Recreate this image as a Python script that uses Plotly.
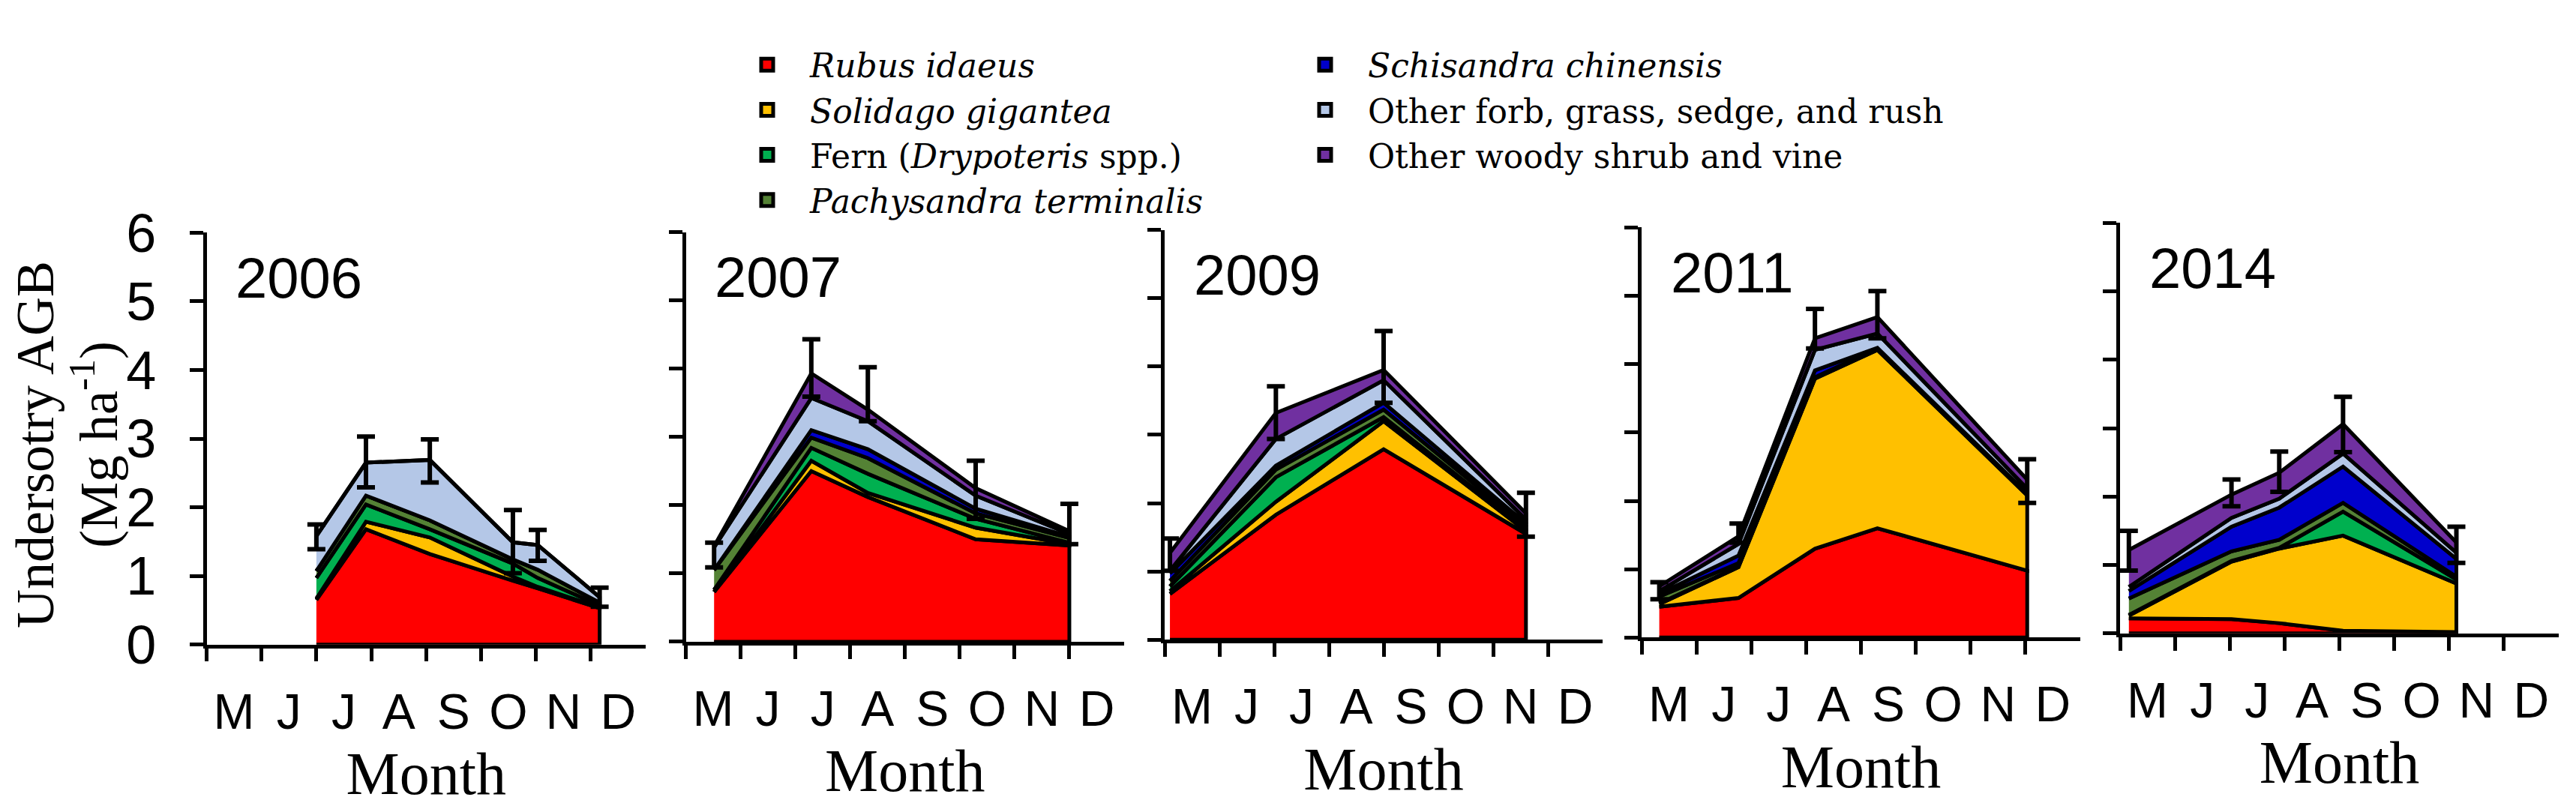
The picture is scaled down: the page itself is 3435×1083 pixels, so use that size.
import numpy as np
import pandas as pd
import plotly.graph_objects as go

# sampling campaigns, one panel per year
years = ["2006", "2007", "2009", "2011", "2014"]
sample_dates = [
    ["2006-07-01", "2006-07-29", "2006-09-03", "2006-10-19", "2006-11-02", "2006-12-06"],
    ["2007-05-17", "2007-07-10", "2007-08-11", "2007-10-10", "2007-12-01"],
    ["2009-05-04", "2009-07-02", "2009-09-01", "2009-11-19"],
    ["2011-05-11", "2011-06-24", "2011-08-06", "2011-09-10", "2011-12-02"],
    ["2014-05-06", "2014-07-02", "2014-07-29", "2014-09-03", "2014-11-05"],
]

# biomass per species group (Mg/ha), one list per year
rubus = [
    [0.65, 1.68, 1.32, 0.93, 0.82, 0.53],
    [0.73, 2.50, 2.12, 1.50, 1.41],
    [0.67, 1.83, 2.79, 1.55],
    [0.45, 0.58, 1.30, 1.60, 0.98],
    [0.22, 0.21, 0.15, 0.04, 0.02],
]
solidago = [
    [0.02, 0.11, 0.24, 0.06, 0.02, 0.01],
    [0.00, 0.15, 0.06, 0.17, 0.02],
    [0.04, 0.19, 0.41, 0.04],
    [0.04, 0.45, 2.49, 2.61, 1.10],
    [0.04, 0.84, 1.09, 1.39, 0.71],
]
fern = [
    [0.30, 0.25, 0.12, 0.19, 0.13, 0.03],
    [0.03, 0.19, 0.28, 0.13, 0.02],
    [0.07, 0.36, 0.06, 0.02],
    [0.01, 0.01, 0.01, 0.01, 0.01],
    [0.01, 0.01, 0.01, 0.35, 0.06],
]
pachysandra = [
    [0.10, 0.13, 0.13, 0.06, 0.12, 0.04],
    [0.29, 0.15, 0.23, 0.08, 0.07],
    [0.08, 0.11, 0.11, 0.05],
    [0.10, 0.05, 0.01, 0.01, 0.01],
    [0.24, 0.14, 0.12, 0.13, 0.04],
]
schisandra = [
    [0.00, 0.00, 0.00, 0.00, 0.00, 0.00],
    [0.00, 0.11, 0.13, 0.07, 0.02],
    [0.11, 0.06, 0.10, 0.04],
    [0.04, 0.11, 0.10, 0.01, 0.01],
    [0.11, 0.36, 0.47, 0.53, 0.26],
]
other_forb = [
    [0.51, 0.48, 0.88, 0.25, 0.36, 0.08],
    [0.33, 0.47, 0.41, 0.19, 0.04],
    [0.04, 0.39, 0.33, 0.06],
    [0.04, 0.17, 0.30, 0.21, 0.07],
    [0.06, 0.13, 0.13, 0.19, 0.09],
]
other_woody = [
    [0.00, 0.00, 0.00, 0.00, 0.00, 0.00],
    [0.02, 0.36, 0.17, 0.11, 0.04],
    [0.26, 0.38, 0.15, 0.09],
    [0.07, 0.11, 0.17, 0.24, 0.13],
    [0.54, 0.34, 0.38, 0.43, 0.15],
]

# error bars on the total (upper / lower arm)
err_up = [
    [0.17, 0.38, 0.30, 0.47, 0.22, 0.14],
    [0.05, 0.50, 0.62, 0.40, 0.40],
    [0.21, 0.39, 0.57, 0.30],
    [0.06, 0.19, 0.43, 0.38, 0.30],
    [0.28, 0.22, 0.31, 0.40, 0.23],
]
err_down = [
    [0.19, 0.36, 0.33, 0.45, 0.23, 0.14],
    [0.31, 0.34, 0.17, 0.45, 0.19],
    [0.26, 0.38, 0.48, 0.34],
    [0.19, 0.09, 0.15, 0.31, 0.34],
    [0.30, 0.17, 0.28, 0.41, 0.30],
]

species_names = [
    "<i>Rubus idaeus</i>",
    "<i>Solidago gigantea</i>",
    "Fern (<i>Drypoteris</i> spp.)",
    "<i>Pachysandra terminalis</i>",
    "<i>Schisandra chinensis</i>",
    "Other forb, grass, sedge, and rush",
    "Other woody shrub and vine",
]
species_values = [rubus, solidago, fern, pachysandra, schisandra, other_forb, other_woody]
species_colors = ["#FF0000", "#FFC000", "#00B050", "#548235", "#0000CC", "#B4C7E7", "#7030A0"]

month_letters = ["M", "J", "J", "A", "S", "O", "N", "D"]
month_starts = [5, 6, 7, 8, 9, 10, 11, 12]

W, H = 3435, 1083
# panel placement in pixels (left, right, y at 0, y at 6)
panel_left = [275.5, 914.5, 1553, 2189, 2827]
panel_right = [861, 1499, 2137, 2774, 3412]
panel_y0 = [885, 881, 878, 875, 869]
panel_y6 = [292, 291, 288, 284.5, 278]

SANS = "Liberation Sans, Arial, sans-serif"
SERIF = "Liberation Serif, Times New Roman, serif"
LEGEND_SERIF = "DejaVu Serif, serif"


def month_pos(date_str):
    d = pd.Timestamp(date_str)
    return d.month + (d.day - 1) / d.days_in_month


fig = go.Figure()

for i, year in enumerate(years):
    sfx = "" if i == 0 else str(i + 1)
    xs = [month_pos(d) for d in sample_dates[i]]
    layers = np.array([s[i] for s in species_values])
    tops = np.cumsum(layers, axis=0)
    bottoms = np.vstack([np.zeros(len(xs)), tops[:-1]])
    for k in range(len(species_names)):
        fig.add_trace(go.Scatter(
            x=xs + xs[::-1],
            y=list(tops[k]) + list(bottoms[k][::-1]),
            mode="lines",
            fill="toself",
            fillcolor=species_colors[k],
            line=dict(color="black", width=5),
            showlegend=False,
            hoverinfo="skip",
            xaxis="x" + sfx,
            yaxis="y" + sfx,
        ))
    fig.add_trace(go.Scatter(
        x=xs,
        y=tops[-1],
        mode="markers",
        marker=dict(size=1, color="rgba(0,0,0,0)"),
        error_y=dict(type="data", symmetric=False, array=err_up[i],
                     arrayminus=err_down[i], color="black", thickness=6, width=12),
        showlegend=False,
        xaxis="x" + sfx,
        yaxis="y" + sfx,
    ))

    fig.update_layout(**{
        "xaxis" + sfx: dict(
            domain=[panel_left[i] / W, panel_right[i] / W],
            anchor="y" + sfx,
            range=[5, 13],
            showline=True, linewidth=4.5, linecolor="black",
            showgrid=False, zeroline=False,
            tickmode="array",
            tickvals=[m + 0.5 for m in month_starts],
            ticktext=month_letters,
            ticks="",
            ticklabelstandoff=28,
            tickfont=dict(family=SANS, size=66, color="black"),
            minor=dict(tickmode="array", tickvals=month_starts, ticks="outside",
                       ticklen=18, tickwidth=4.5, tickcolor="black", showgrid=False),
            title=dict(text="Month", font=dict(family=SERIF, size=80, color="black"),
                       standoff=20),
        ),
        "yaxis" + sfx: dict(
            domain=[1 - panel_y0[i] / H, 1 - panel_y6[i] / H],
            anchor="x" + sfx,
            range=[0, 6],
            showline=True, linewidth=4.5, linecolor="black",
            showgrid=False, zeroline=False,
            tickmode="array", tickvals=[0, 1, 2, 3, 4, 5, 6],
            ticks="outside", ticklen=18, tickwidth=4.5, tickcolor="black",
            showticklabels=(i == 0),
            ticklabelstandoff=30,
            tickfont=dict(family=SANS, size=72, color="black"),
        ),
    })
    fig.add_annotation(
        text=year, xref="x" + sfx + " domain", yref="y" + sfx + " domain",
        x=0.063, y=0.89, xanchor="left", yanchor="middle", showarrow=False,
        font=dict(family=SANS, size=76, color="black"),
    )

# legend entries
for k, name in enumerate(species_names):
    fig.add_trace(go.Scatter(
        x=[None], y=[None], mode="markers", name=name,
        marker=dict(symbol="square", size=30, color=species_colors[k],
                    line=dict(color="black", width=5)),
        legend="legend" if k < 4 else "legend2",
    ))

legend_font = dict(family=LEGEND_SERIF, size=44, color="black")
fig.update_layout(
    width=W, height=H,
    margin=dict(l=0, r=0, t=0, b=0),
    paper_bgcolor="white", plot_bgcolor="white",
    legend=dict(x=966 / W, y=1 - 12 / H, xanchor="left", yanchor="top",
                font=legend_font, bgcolor="rgba(0,0,0,0)", itemsizing="trace",
                itemwidth=104),
    legend2=dict(x=1710 / W, y=1 - 12 / H, xanchor="left", yanchor="top",
                 font=legend_font, bgcolor="rgba(0,0,0,0)", itemsizing="trace",
                 itemwidth=104),
)

# y-axis title, two lines
y_title_lines = ["Undersotry AGB", "(Mg ha<sup>-1</sup>)"]
y_title_x = [47, 127]
for txt, px in zip(y_title_lines, y_title_x):
    fig.add_annotation(
        text=txt, xref="paper", yref="paper", x=px / W, y=1 - 597 / H,
        xanchor="center", yanchor="middle", textangle=-90, showarrow=False,
        font=dict(family=SERIF, size=72, color="black"),
    )

fig.write_html(
    "out.html",
    config={"displayModeBar": False},
    post_script="document.body.style.margin='0';document.body.style.overflow='hidden';",
)
